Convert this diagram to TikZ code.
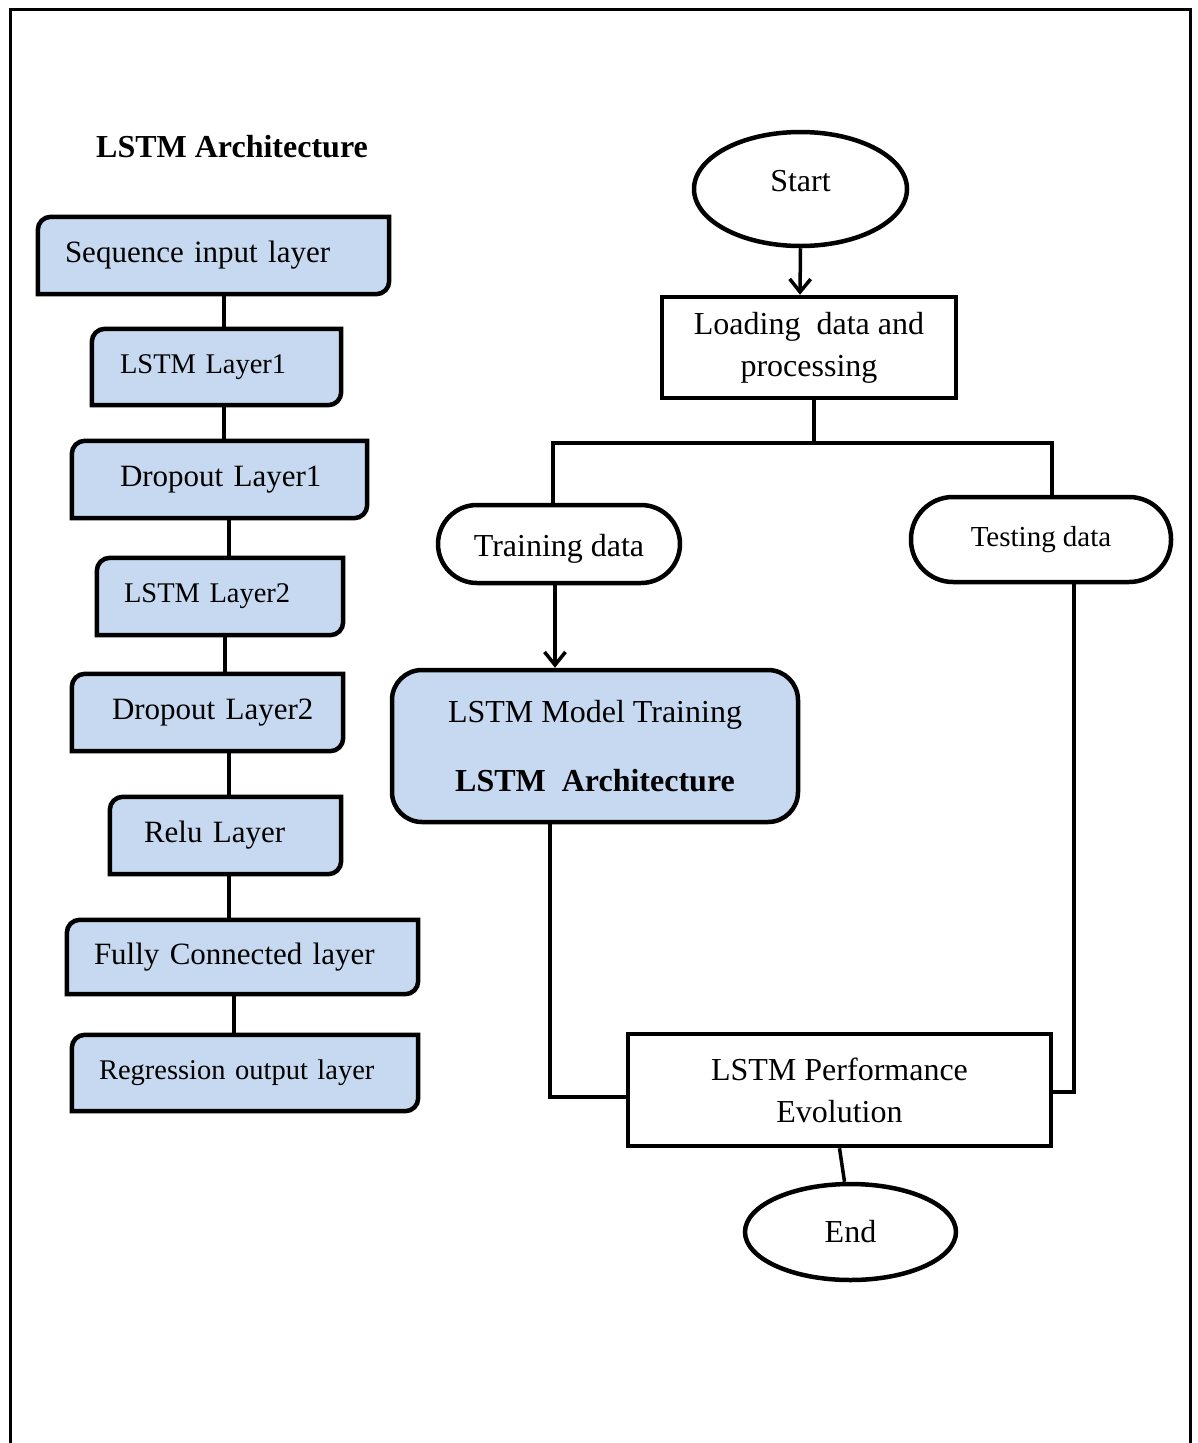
\documentclass[tikz,border=0pt]{standalone}
\usepackage{fontspec}
\setmainfont{Liberation Serif}
\usetikzlibrary{shapes.geometric,arrows.meta,backgrounds}
\definecolor{boxblue}{RGB}{198,217,240}

\begin{document}
\begin{tikzpicture}[x=1pt,y=1pt,
  every node/.style={font=\fontsize{32}{42}\selectfont},
  conn/.style={line width=3.5pt},
  arr/.style={conn,-{Straight Barb[length=13pt,width=21pt]}},
  shapeline/.style={line width=4.5pt},
  layerbox/.style={inner ysep=0pt, align=left, font=\fontsize{31}{38}\selectfont},
  smalltext/.style={font=\fontsize{29}{35}\selectfont},
  procbox/.style={shapeline, draw, align=center, inner sep=0pt},
  terminal/.style={shapeline, draw, ellipse, inner sep=0pt},
  dataset/.style={shapeline, draw, inner sep=0pt},
]
\useasboundingbox (0,0) rectangle (1198,-1443);

% outer frame, open at the bottom
\draw[line width=3pt] (10,-1443) -- (10,-9) -- (1190,-9) -- (1190,-1443);

% ---------- layer stack ----------
\node[font=\fontsize{32}{38}\selectfont\bfseries] (title) at (232,-147) {LSTM Architecture};

\node[layerbox, text width=297pt, inner xsep=27pt, minimum height=77pt] (seq) at (213.5,-255.5) {\mbox{Sequence input layer}};
\node[layerbox, font=\fontsize{28.5}{35}\selectfont, text width=193pt, inner xsep=28pt, minimum height=76pt] (l1) at (216.5,-367) {\mbox{LSTM Layer1}};
\node[layerbox, text width=199pt, inner xsep=48pt, minimum height=77pt] (d1) at (219.5,-479.5) {\mbox{Dropout Layer1}};
\node[layerbox, font=\fontsize{28.5}{35}\selectfont, text width=192pt, inner xsep=27pt, minimum height=77pt] (l2) at (220,-596.5) {\mbox{LSTM Layer2}};
\node[layerbox, text width=191pt, inner xsep=40pt, minimum height=77pt] (d2) at (207.5,-712.5) {\mbox{Dropout Layer2}};
\node[layerbox, text width=163pt, inner xsep=34pt, minimum height=77pt] (relu) at (225.5,-835.5) {\mbox{Relu Layer}};
\node[layerbox, text width=297pt, inner xsep=27pt, minimum height=74pt] (fc) at (242.5,-957) {\mbox{Fully Connected layer}};
\node[layerbox, font=\fontsize{28.5}{35}\selectfont, text width=292pt, inner xsep=27pt, minimum height=76pt] (reg) at (245,-1073) {\mbox{Regression output layer}};

% layer outlines: rounded top-left and bottom-right corners
\begin{pgfonlayer}{background}
\foreach \n in {seq,l1,d1,l2,d2,relu,fc,reg}{
  \filldraw[shapeline, fill=boxblue]
    (\n.south west) -- ([yshift=-13pt]\n.north west)
    arc[start angle=180, end angle=90, radius=13pt]
    -- (\n.north east) -- ([yshift=13pt]\n.south east)
    arc[start angle=0, end angle=-90, radius=13pt] -- cycle;
}
\end{pgfonlayer}

\draw[conn] ([xshift=10.5pt]seq.south) -- ([xshift=7.5pt]l1.north);
\draw[conn] ([xshift=7.5pt]l1.south) -- ([xshift=4.5pt]d1.north);
\draw[conn] ([xshift=9.5pt]d1.south) -- ([xshift=9pt]l2.north);
\draw[conn] ([xshift=5pt]l2.south) -- ([xshift=17.5pt]d2.north);
\draw[conn] ([xshift=21.5pt]d2.south) -- ([xshift=3.5pt]relu.north);
\draw[conn] ([xshift=3.5pt]relu.south) -- ([xshift=-13.5pt]fc.north);
\draw[conn] ([xshift=-8.5pt]fc.south) -- ([xshift=-11pt]reg.north);

% ---------- workflow ----------
\node[terminal, minimum width=213pt, minimum height=114pt] (start) at (800.5,-189) {\vphantom{Start}\smash{\raisebox{8pt}{Start}}};
\node[procbox, minimum width=294pt, minimum height=101pt] (load) at (809,-347.5) {Loading\ \ data and\\processing};
\node[dataset, rounded corners=39pt, minimum width=242pt, minimum height=78pt] (train) at (559,-544) {\vphantom{Training}\smash{\raisebox{-5pt}{Training data}}};
\node[dataset, smalltext, rounded corners=42pt, minimum width=260pt, minimum height=85pt] (test) at (1041,-539.5) {Testing data};
\node[procbox, fill=boxblue, rounded corners=30pt, minimum width=406pt, minimum height=152pt] (model) at (595,-746)
  {LSTM Model Training\\[27pt]\textbf{LSTM\ \ Architecture}};
\node[procbox, minimum width=423pt, minimum height=112pt] (perf) at (839.5,-1090) {LSTM Performance\\Evolution};
\node[terminal, minimum width=211pt, minimum height=96pt] (end) at (850.5,-1232) {End};

\coordinate (split) at (814,-443);

\draw[arr] (start.south) -- ([xshift=-9pt]load.north);
\draw[conn] ([xshift=5pt]load.south) -- (split);
\draw[conn] ([xshift=-6pt]train.north) |- (split) -| ([xshift=11pt]test.north);
\draw[arr] ([xshift=-4pt]train.south) -- ([xshift=-40pt]model.north);
\draw[conn] ([xshift=-45pt]model.south) |- ([yshift=-7pt]perf.west);
\draw[conn] ([xshift=33pt]test.south) |- ([yshift=-2pt]perf.east);
\draw[conn] (perf.south) -- ([xshift=-6pt]end.north);
\end{tikzpicture}
\end{document}
